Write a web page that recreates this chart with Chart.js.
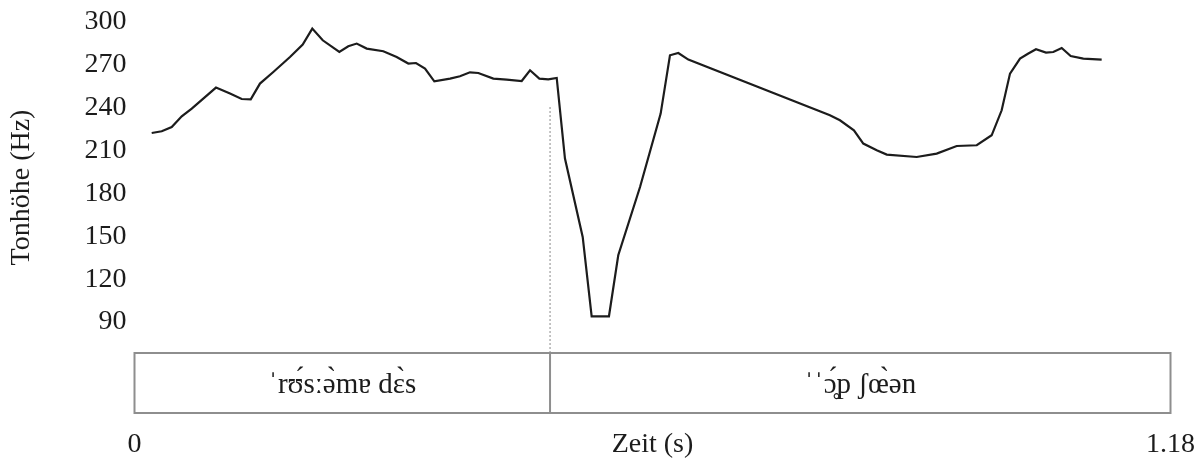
<!DOCTYPE html>
<html>
<head>
<meta charset="utf-8">
<script src="https://cdn.jsdelivr.net/npm/chart.js@4/dist/chart.umd.min.js"></script>
<style>
  html, body { margin: 0; padding: 0; background: #fff; }
  #wrap { width: 1197px; height: 459px; position: relative; }
</style>
</head>
<body>
<div id="wrap"><canvas id="c"></canvas></div>
<script>
// Pitch track (F0) over time
const timeSec = [
  0.0196, 0.0310, 0.0424, 0.0538, 0.0652, 0.0928, 0.1088, 0.1221, 0.1324, 0.1429,
  0.1581, 0.1771, 0.1916, 0.2025, 0.2144, 0.2333, 0.2435, 0.2531, 0.2645, 0.2834,
  0.2986, 0.3119, 0.3206, 0.3309, 0.3415, 0.3594, 0.3707, 0.3821, 0.3916, 0.4087,
  0.4239, 0.4410, 0.4505, 0.4611, 0.4713, 0.4809, 0.4903, 0.5105, 0.5207, 0.5404,
  0.5510, 0.5758, 0.5993, 0.6099, 0.6194, 0.6308, 0.7921, 0.8035, 0.8194, 0.8301,
  0.8454, 0.8568, 0.8909, 0.9137, 0.9365, 0.9593, 0.9763, 0.9877, 0.9972, 1.0086,
  1.0181, 1.0268, 1.0382, 1.0465, 1.0561, 1.0663, 1.0807, 1.1016
];
const pitchHz = [
  222.3, 223.5, 226.5, 234.0, 239.4, 254.1, 249.9, 246.1, 245.9, 256.9,
  265.0, 275.5, 284.2, 295.4, 287.2, 279.0, 283.0, 284.9, 281.4, 279.5,
  275.5, 270.9, 271.3, 267.4, 258.5, 260.4, 262.0, 264.8, 264.3, 260.4,
  259.7, 258.7, 266.2, 260.4, 259.9, 260.8, 204.4, 149.5, 94.0, 94.0,
  136.7, 184.5, 235.9, 276.7, 278.3, 273.7, 234.7, 231.2, 224.2, 214.9,
  210.2, 207.2, 205.5, 207.9, 213.2, 213.7, 220.7, 238.2, 263.9, 274.4,
  277.9, 280.9, 278.6, 279.0, 281.8, 276.2, 274.4, 273.7
];

// Axis ticks
const yTicks = [90, 120, 150, 180, 210, 240, 270, 300];
const xTicks = [0, 1.18];

// Word segmentation tier
const segmentBounds = [0, 0.4733, 1.18];
const segmentLabels = ['ˈrʊ́sːə̀mɐ dɛ̀s', 'ˈˈɔ̥́p ʃœ̀ən'];
const boundaryTopHz = 240.5;

const Y_MIN = 68.3, Y_MAX = 300;
const SERIF = '"Liberation Serif", "DejaVu Serif", serif';
const INK = '#1c1c1c';

// Draws the segmentation box under the plot with one cell per word
const segmentTier = {
  id: 'segmentTier',
  afterDraw(chart) {
    const { ctx, chartArea, scales } = chart;
    const x = scales.x;
    const top = chartArea.bottom;
    const bottom = top + 60;
    ctx.save();
    ctx.strokeStyle = '#8e8e8e';
    ctx.lineWidth = 2;
    const x0 = x.getPixelForValue(segmentBounds[0]);
    const x1 = x.getPixelForValue(segmentBounds[segmentBounds.length - 1]);
    ctx.strokeRect(x0, top, x1 - x0, bottom - top);
    for (let i = 1; i < segmentBounds.length - 1; i++) {
      const px = x.getPixelForValue(segmentBounds[i]);
      ctx.beginPath();
      ctx.moveTo(px, top);
      ctx.lineTo(px, bottom);
      ctx.stroke();
    }
    ctx.fillStyle = INK;
    ctx.font = '29px ' + SERIF;
    ctx.textAlign = 'center';
    ctx.textBaseline = 'alphabetic';
    segmentLabels.forEach((lbl, i) => {
      const a = x.getPixelForValue(segmentBounds[i]);
      const b = x.getPixelForValue(segmentBounds[i + 1]);
      ctx.fillText(lbl, (a + b) / 2, top + 40);
    });
    ctx.restore();
  }
};

new Chart(document.getElementById('c'), {
  type: 'line',
  data: {
    datasets: [
      {
        label: 'F0',
        data: timeSec.map((t, i) => ({ x: t, y: pitchHz[i] })),
        borderColor: INK,
        borderWidth: 2.2,
        pointRadius: 0,
        tension: 0,
        fill: false
      },
      {
        label: 'boundary',
        data: [
          { x: segmentBounds[1], y: boundaryTopHz },
          { x: segmentBounds[1], y: Y_MIN }
        ],
        borderColor: '#8a8a8a',
        borderWidth: 1,
        borderDash: [2, 2],
        pointRadius: 0,
        fill: false
      }
    ]
  },
  options: {
    responsive: true,
    maintainAspectRatio: false,
    animation: false,
    events: [],
    layout: { padding: { top: 22, right: 26.5, left: 0, bottom: 0 } },
    plugins: { legend: { display: false }, tooltip: { enabled: false } },
    scales: {
      x: {
        type: 'linear',
        min: 0,
        max: 1.18,
        afterBuildTicks: s => { s.ticks = xTicks.map(v => ({ value: v })); },
        afterFit: s => { s.height = 106; s.paddingLeft = 0; s.paddingRight = 0; },
        grid: { display: false, drawTicks: false },
        border: { display: false },
        ticks: {
          color: INK,
          font: { family: SERIF, size: 28 },
          padding: 75,
          maxRotation: 0,
          autoSkip: false,
          callback: v => String(v)
        },
        title: {
          display: true,
          text: 'Zeit (s)',
          color: INK,
          font: { family: SERIF, size: 28 },
          padding: { top: 0, bottom: -2 }
        }
      },
      y: {
        min: Y_MIN,
        max: Y_MAX,
        afterBuildTicks: s => { s.ticks = yTicks.map(v => ({ value: v })); },
        afterFit: s => { s.width = 134.5; s.paddingTop = 0; s.paddingBottom = 0; },
        grid: { display: false, drawTicks: false },
        border: { display: false },
        ticks: {
          color: INK,
          font: { family: SERIF, size: 28 },
          padding: 8
        },
        title: {
          display: true,
          text: 'Tonhöhe (Hz)',
          color: INK,
          font: { family: SERIF, size: 28 },
          padding: { top: 5, bottom: 0 }
        }
      }
    }
  },
  plugins: [segmentTier]
});
</script>
</body>
</html>
